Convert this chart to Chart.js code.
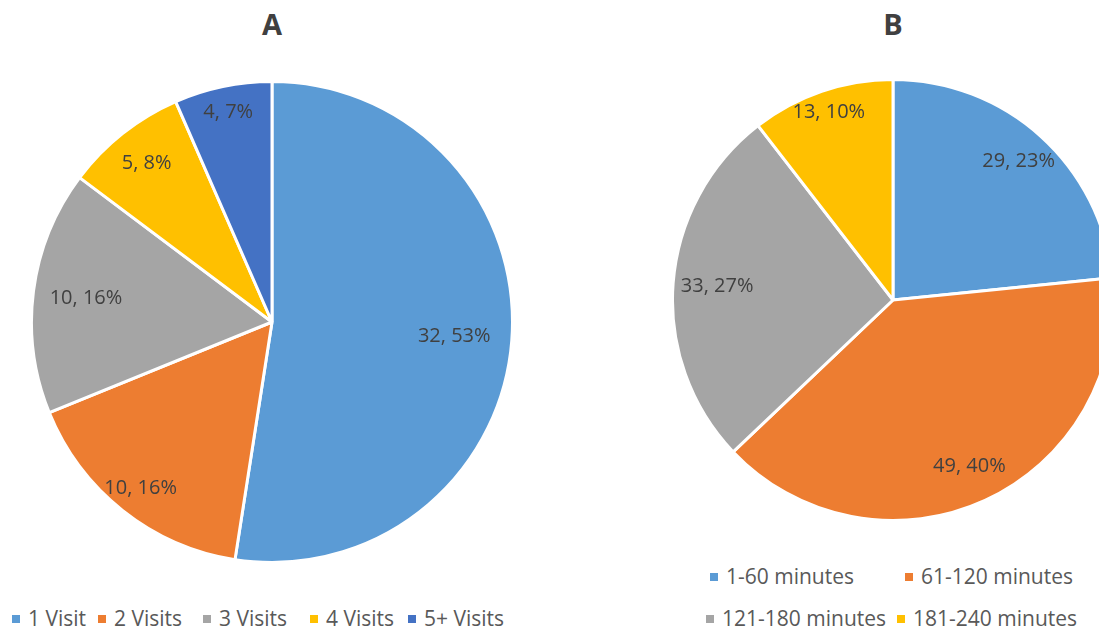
<!DOCTYPE html>
<html>
<head>
<meta charset="utf-8">
<script src="https://cdn.jsdelivr.net/npm/chart.js@4/dist/chart.umd.min.js"></script>
<style>
    html, body { margin: 0; padding: 0; background: #fff; overflow: hidden; width: 1099px; height: 637px; }
    body { position: relative; font-family: "Open Sans", "Noto Sans", sans-serif; }
    .title { position: absolute; top: 4px; font-size: 29px; line-height: 40px; font-weight: bold; color: #404040; transform: translateX(-50%); }
    .pie { position: absolute; }
    .legend { position: absolute; font-size: 21px; color: #595959; white-space: nowrap; }
    .legend span.item { position: absolute; line-height: 28px; }
    .legend i { display: inline-block; width: 8px; height: 8px; margin-right: 8px; vertical-align: middle; position: relative; top: -1px; }
</style>
</head>
<body>
<div class="title" style="left:272px">A</div>
<div class="title" style="left:893px">B</div>
<div class="pie" style="left:30px; top:80px;"><canvas id="chart-a" width="484" height="484"></canvas></div>
<div class="pie" style="left:671px; top:78px;"><canvas id="chart-b" width="444" height="444"></canvas></div>
<div class="legend" id="legend-a"></div>
<div class="legend" id="legend-b"></div>
<script>
// Datos
const visitLabels = ['1 Visit', '2 Visits', '3 Visits', '4 Visits', '5+ Visits'];
const visitCounts = [32, 10, 10, 5, 4];
const visitPct = [53, 16, 16, 8, 7];

const timeLabels = ['1-60 minutes', '61-120 minutes', '121-180 minutes', '181-240 minutes'];
const timeCounts = [29, 49, 33, 13];
const timePct = [23, 40, 27, 10];

const colores = ['#5B9BD5', '#ED7D31', '#A5A5A5', '#FFC000', '#4472C4'];

// Etiquetas dentro de cada sector
const sliceLabels = {
    id: 'sliceLabels',
    afterDatasetsDraw(chart, args, opts) {
        const ctx = chart.ctx;
        const meta = chart.getDatasetMeta(0);
        ctx.save();
        ctx.font = '20px "Open Sans", "Noto Sans", sans-serif';
        ctx.fillStyle = '#404040';
        ctx.textAlign = 'center';
        ctx.textBaseline = 'middle';
        meta.data.forEach((arc, i) => {
            const p = arc.getProps(['x', 'y', 'startAngle', 'endAngle', 'outerRadius'], true);
            const mid = (p.startAngle + p.endAngle) / 2;
            const r = p.outerRadius * opts.dist[i];
            const text = chart.data.datasets[0].data[i] + ', ' + opts.pct[i] + '%';
            ctx.fillText(text, p.x + Math.cos(mid) * r, p.y + Math.sin(mid) * r);
        });
        ctx.restore();
    }
};

function makePie(id, labels, data, pct, dist) {
    return new Chart(document.getElementById(id).getContext('2d'), {
        type: 'pie',
        data: {
            labels: labels,
            datasets: [{
                data: data,
                backgroundColor: colores.slice(0, data.length),
                borderColor: '#ffffff',
                borderWidth: 3
            }]
        },
        options: {
            responsive: false,
            animation: false,
            layout: { padding: 0 },
            plugins: {
                legend: { display: false },
                tooltip: { enabled: false },
                sliceLabels: { pct: pct, dist: dist }
            }
        },
        plugins: [sliceLabels]
    });
}

makePie('chart-a', visitLabels, visitCounts, visitPct, [0.76, 0.88, 0.78, 0.84, 0.89]);
makePie('chart-b', timeLabels, timeCounts, timePct, [0.85, 0.83, 0.8, 0.9]);

// Leyendas
function makeLegend(id, labels, spots) {
    const box = document.getElementById(id);
    labels.forEach((txt, i) => {
        const s = document.createElement('span');
        s.className = 'item';
        s.style.left = spots[i][0] + 'px';
        s.style.top = (spots[i][1] - 14) + 'px';
        s.innerHTML = '<i style="background:' + colores[i] + '"></i>' + txt;
        box.appendChild(s);
    });
}
makeLegend('legend-a', visitLabels, [[12, 618], [98, 618], [203, 618], [310, 618], [408, 618]]);
makeLegend('legend-b', timeLabels, [[710, 576], [905, 576], [706, 618], [897, 618]]);
</script>
</body>
</html>
